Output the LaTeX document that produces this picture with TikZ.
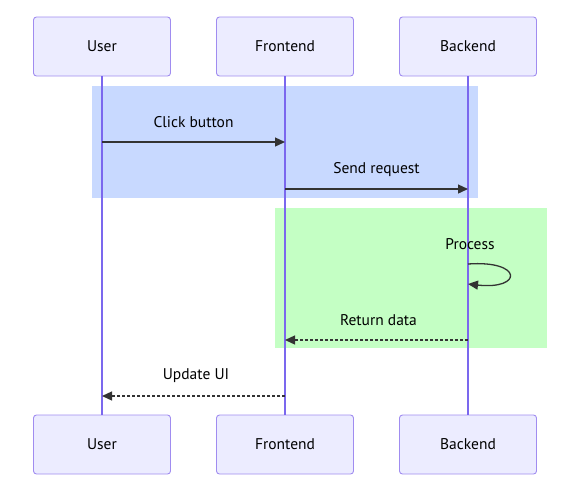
\documentclass[tikz,border=0pt]{standalone}
\usepackage{fontspec}
\setmainfont{PT Sans}
\usetikzlibrary{arrows.meta}
\definecolor{actfill}{HTML}{ECECFF}
\definecolor{actdraw}{HTML}{A08CF0}
\definecolor{lifeline}{HTML}{7B68EE}
\definecolor{bluebg}{HTML}{C8D9FF}
\definecolor{greenbg}{HTML}{C4FFC4}
\definecolor{msg}{HTML}{333333}
\tikzset{
  actor/.style={draw=actdraw, fill=actfill, rounded corners=3pt, minimum width=137pt, minimum height=59pt, line width=0.9pt, font=\fontsize{15.5}{17}\selectfont, inner sep=0pt},
  life/.style={draw=lifeline, line width=1.6pt},
  msgline/.style={draw=msg, line width=1.3pt, -{Triangle[length=10pt,width=9pt]}},
  msgdash/.style={msgline, dash pattern=on 3pt off 2pt},
  lbl/.style={font=\fontsize{15.5}{17}\selectfont, text=black, inner sep=0pt}
}
\begin{document}
\begin{tikzpicture}[x=1pt,y=-1pt]
\useasboundingbox (0,0) rectangle (572,499);
\fill[bluebg] (92,86) rectangle (478,198);
\fill[greenbg] (275,208) rectangle (547,348);
\node[actor] (u1) at (102,46.5) {User};
\node[actor] (f1) at (285,46.5) {Frontend};
\node[actor] (b1) at (468,46.5) {Backend};
\node[actor] (u2) at (102,444.5) {User};
\node[actor] (f2) at (285,444.5) {Frontend};
\node[actor] (b2) at (468,444.5) {Backend};
\draw[life] (u1) -- (u2);
\draw[life] (f1) -- (f2);
\draw[life] (b1) -- (b2);
\coordinate (c1s) at (102,142); \coordinate (c1e) at (285,142);
\coordinate (c2s) at (285,189); \coordinate (c2e) at (468,189);
\coordinate (c3s) at (468,264); \coordinate (c3e) at (468,284);
\coordinate (c4s) at (468,340); \coordinate (c4e) at (285,340);
\coordinate (c5s) at (285,396); \coordinate (c5e) at (102,396);
\draw[msgline] (c1s) -- (c1e);
\node[lbl] (l1) at (193.5,122) {Click button};
\draw[msgline] (c2s) -- (c2e);
\node[lbl] (l2) at (376.5,170) {Send request};
\draw[msgline] (c3s) .. controls (523,260) and (523,290) .. (c3e);
\node[lbl] (l3) at (470,244) {Process};
\draw[msgdash] (c4s) -- (c4e);
\node[lbl] (l4) at (378.5,320) {Return data};
\draw[msgdash] (c5s) -- (c5e);
\node[lbl] (l5) at (196,376) {Update UI};
\end{tikzpicture}
\end{document}
